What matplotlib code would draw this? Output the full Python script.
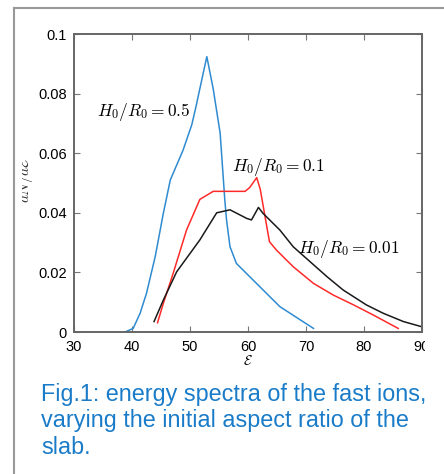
import numpy as np
import matplotlib.pyplot as plt
from matplotlib.transforms import Bbox, TransformedBbox
from matplotlib.lines import Line2D
from matplotlib.patches import Rectangle

plt.rcParams['font.family'] = ['Liberation Sans', 'DejaVu Sans']
plt.rcParams['mathtext.fontset'] = 'cm'

# energy spectra
e_05 = [38.8, 40.2, 41.4, 42.5, 44.0, 45.4, 46.6, 48.8, 50.3, 50.9, 52.9,
        54.0, 55.2, 56.0, 56.3, 56.9, 58.0, 60.9, 65.5, 71.3]
n_05 = [0.0, 0.0012, 0.0063, 0.013, 0.0253, 0.0398, 0.051, 0.061, 0.0695, 0.0745, 0.0924,
        0.0816, 0.0667, 0.0443, 0.0376, 0.0286, 0.023, 0.0174, 0.0085, 0.0012]

e_01 = [44.4, 45.4, 47.1, 49.4, 51.7, 54.0, 59.5, 60.3, 61.5, 62.1, 63.7,
        64.9, 67.8, 71.3, 74.7, 78.2, 81.6, 85.9]
n_01 = [0.0031, 0.0096, 0.0197, 0.0342, 0.0445, 0.0472, 0.0472, 0.0485, 0.0518, 0.048, 0.0303,
        0.0275, 0.0219, 0.0163, 0.0124, 0.0091, 0.0057, 0.0012]

e_001 = [43.8, 45.4, 47.7, 51.7, 54.6, 56.9, 59.8, 60.6, 61.8, 62.6, 65.5,
         67.8, 70.7, 73.6, 76.4, 80.4, 83.3, 86.8, 89.9]
n_001 = [0.0035, 0.0107, 0.0202, 0.0309, 0.040, 0.041, 0.0381, 0.0376, 0.0418, 0.0398, 0.0342,
         0.0286, 0.0236, 0.0186, 0.0141, 0.0091, 0.0063, 0.0035, 0.0018]

x_ticks = [30, 40, 50, 60, 70, 80, 90]
y_ticks = [0, 0.02, 0.04, 0.06, 0.08, 0.1]
y_ticklabels = ['0', '0.02', '0.04', '0.06', '0.08', '0.1']

W, H = 444, 474
fig = plt.figure(figsize=(W/100, H/100), dpi=100)
ax = fig.add_axes([74/W, 1 - 332/H, 348/W, 298/H])

ax.plot(e_05, n_05, color='#2f8bd0', lw=1.1)
ax.plot(e_01, n_01, color='#ff2a2a', lw=1.1)
ax.plot(e_001, n_001, color='#1a1a1a', lw=1.1)

ax.set_xlim(30, 90)
ax.set_ylim(0, 0.1)
ax.set_xticks(x_ticks)
ax.set_yticks(y_ticks)
ax.set_yticklabels(y_ticklabels)
ax.tick_params(direction='in', length=4, width=0.8, color='#777777', labelsize=10.5,
               top=True, right=True)
ax.tick_params(axis='x', pad=6)
ax.tick_params(axis='y', pad=5)
for s in ax.spines.values():
    s.set_color('#666666')
    s.set_linewidth(1.4)

ax.set_xlabel(r'$\mathcal{E}$', fontsize=10, labelpad=0)

ax.text(34.0, 0.0725, r'$H_0/R_0 = 0.5$', fontsize=12.5, va='baseline')
ax.text(57.2, 0.0541, r'$H_0/R_0 = 0.1$', fontsize=12.5, va='baseline')
ax.text(68.6, 0.0266, r'$H_0/R_0 = 0.01$', fontsize=12.5, va='baseline')

# cut-off y label at the left
yl = fig.text(25/W, 1 - 180/H, r'$dN/d\mathcal{E}$', rotation=90, fontsize=11,
              ha='center', va='center', color='#333333')
yl.set_clip_on(True)
yl.set_clip_box(TransformedBbox(Bbox([[22/W, 0], [40/W, 1]]), fig.transFigure))

# screenshot frame
fig.add_artist(Line2D([14/W, 14/W], [0, 1 - 8/H], color='#999999', lw=1.5))
fig.add_artist(Line2D([14/W, 1], [1 - 8/H, 1 - 8/H], color='#999999', lw=1.5))
# crop of the right edge
fig.add_artist(Rectangle((425/W, 1 - 356/H), 19/W, 20/H, transform=fig.transFigure,
                         facecolor='white', edgecolor='none', zorder=10))

cap_color = '#1a7cc8'
caption = ['Fig.1: energy spectra of the fast ions,',
           'varying the initial aspect ratio of the',
           'slab.']
for i, line in enumerate(caption):
    fig.text(41/W, 1 - (401 + 26.5*i)/H, line, fontsize=16.8, color=cap_color, va='baseline')

fig.savefig('out.png', dpi=100)
